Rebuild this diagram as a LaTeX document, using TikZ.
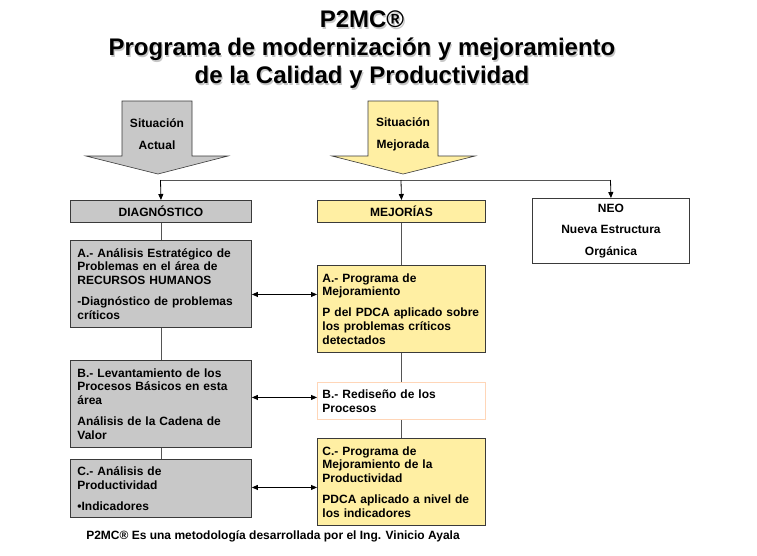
\documentclass[tikz,border=0pt]{standalone}
\usepackage{fontspec}
\setmainfont{Liberation Sans}
\usetikzlibrary{arrows.meta}
\definecolor{boxgray}{HTML}{C8C8C8}
\definecolor{boxyellow}{HTML}{FFEFA3}
\definecolor{edge}{HTML}{3A3A3A}
\definecolor{peach}{HTML}{FFD6B8}
\definecolor{linegray}{HTML}{555555}
\tikzset{
  basebox/.style={draw=edge, line width=0.9pt, anchor=north west, inner xsep=7pt, inner ysep=0pt, align=left},
  gbox/.style={basebox, fill=boxgray},
  ybox/.style={basebox, fill=boxyellow, inner xsep=5pt},
  pbox/.style={basebox, fill=white, draw=peach, inner xsep=5pt},
  hbox/.style={draw=edge, line width=0.9pt, anchor=north west, inner sep=0pt, align=center},
  conn/.style={draw=linegray, line width=0.8pt},
  tip/.style={-{Triangle[length=6pt,width=5pt]}, draw=black, line width=0.8pt},
  dbl/.style={{Triangle[length=6pt,width=5pt]}-{Triangle[length=6pt,width=5pt]}, draw=black, line width=0.8pt},
  blockarrow/.style={draw=edge, line width=0.6pt},
}
\begin{document}
\begin{tikzpicture}[x=1pt,y=-1pt,font=\bfseries\fontsize{12}{13.8}\selectfont]
\useasboundingbox[fill=white] (0,0) rectangle (757,555);

% title
\node[align=center, text=black!22, font=\bfseries\fontsize{24}{28}\selectfont] (titleshadow) at (363.2,51.2) {P2MC®\\Programa de modernización y mejoramiento\\de la Calidad y Productividad};
\node[align=center, font=\bfseries\fontsize{24}{28}\selectfont] (title) at (362,50) {P2MC®\\Programa de modernización y mejoramiento\\de la Calidad y Productividad};

% block arrows
\filldraw[blockarrow, fill=boxgray] (122,101) -- (192,101) -- (192,156) -- (228,156) -- (158,174) -- (86,156) -- (122,156) -- cycle;
\filldraw[blockarrow, fill=boxyellow] (368,101) -- (438,101) -- (438,156) -- (475,156) -- (403,174) -- (332,156) -- (368,156) -- cycle;
\node[align=center, font=\bfseries\fontsize{12}{22}\selectfont] (sa) at (157,134) {Situación\\Actual};
\node[align=center, font=\bfseries\fontsize{12}{22}\selectfont] (sm) at (403,134) {Situación\\Mejorada};

% header boxes
\node[gbox, align=center, minimum width=181pt, minimum height=22pt] (diag) at (70,200) {DIAGNÓSTICO};
\node[ybox, align=center, minimum width=168pt, minimum height=22pt] (mej) at (317,200) {MEJORÍAS};
\node[hbox, fill=white, minimum width=157pt, minimum height=65pt, font=\bfseries\fontsize{12}{21.5}\selectfont] (neo) at (532,198) {NEO\\Nueva Estructura\\Orgánica};

% left column
\node[gbox, text width=167pt, minimum height=87pt] (al) at (70,240) {A.- Análisis Estratégico de\\Problemas en el área de\\RECURSOS HUMANOS\\[7pt]-Diagnóstico de problemas\\críticos};
\node[gbox, text width=167pt, minimum height=87pt] (bl) at (70,360) {B.- Levantamiento de los\\Procesos Básicos en esta\\área\\[7pt]Análisis de la Cadena de\\Valor};
\node[gbox, text width=167pt, minimum height=58pt] (cl) at (70,459) {C.- Análisis de\\Productividad\\[7pt]•Indicadores};

% right column
\node[ybox, text width=158pt, minimum height=87pt] (ar) at (317,265) {A.- Programa de\\Mejoramiento\\[7pt]P del PDCA aplicado sobre\\los problemas críticos\\detectados};
\node[pbox, text width=158pt, minimum height=37pt] (br) at (317,382) {B.- Rediseño de los\\Procesos};
\node[ybox, text width=158pt, minimum height=87pt] (cr) at (317,438) {C.- Programa de\\Mejoramiento de la\\Productividad\\[7pt]PDCA aplicado a nivel de\\los indicadores};

% distribution line
\coordinate (hl) at (160.5,180);
\coordinate (hr) at (610.5,180);
\coordinate (hm) at (401,180);
\draw[conn] (hl) -- (hr);
\draw[tip] (hl) -- (diag.north);
\draw[tip] (hm) -- (mej.north);
\draw[tip] (hr) -- (neo.north);

% vertical connectors
\draw[conn] (diag.south) -- (al.north);
\draw[conn] (al.south) -- (bl.north);
\draw[conn] (bl.south) -- (cl.north);
\draw[conn] (mej.south) -- (ar.north);
\draw[conn] (ar.south) -- (br.north);
\draw[conn] (br.south) -- (cr.north);

% horizontal double arrows
\draw[dbl] ([yshift=-10.5pt]al.east) -- ([yshift=-10.5pt]al.east -| ar.west);
\draw[dbl] ([yshift=6.5pt]bl.east) -- ([yshift=6.5pt]bl.east -| br.west);
\draw[dbl] ([yshift=1pt]cl.east) -- ([yshift=1pt]cl.east -| cr.west);

% footer
\node (footer) at (273,536) {P2MC® Es una metodología desarrollada por el Ing. Vinicio Ayala};
\end{tikzpicture}
\end{document}
